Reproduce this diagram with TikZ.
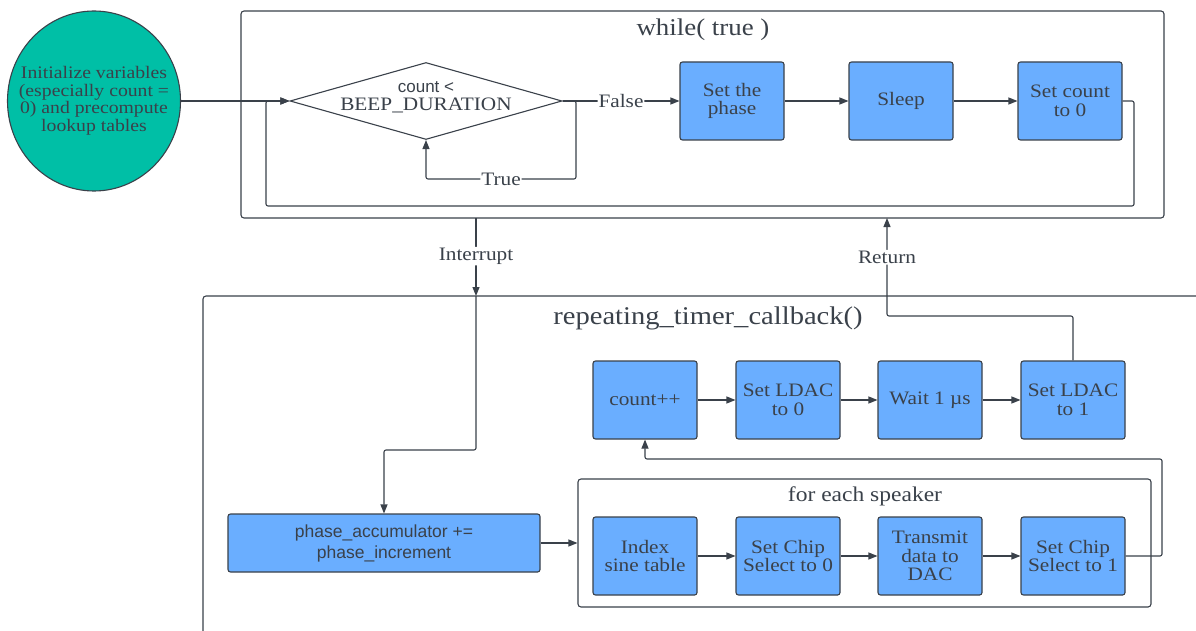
\documentclass[tikz,border=0pt]{standalone}
\usepackage{fontspec}
\setmainfont{Liberation Serif}[FakeStretch=1.12]
\newfontfamily\sansf{Liberation Sans}
\usetikzlibrary{arrows.meta,shapes.geometric}
\definecolor{ink}{HTML}{3A414A}
\definecolor{tealc}{HTML}{00BFA6}
\definecolor{blu}{HTML}{6AAEFF}
\tikzset{
 box/.style={draw=ink,fill=blu,rounded corners=2.5pt,minimum width=104pt,minimum height=78pt,align=center,text=ink,font=\fontsize{19}{18.5}\selectfont,line width=1.1pt,inner sep=2pt},
 frame/.style={draw=ink,rounded corners=3pt,line width=1.1pt},
 conn/.style={draw=ink,line width=1.1pt,rounded corners=2pt,-{Triangle[length=9pt,width=7pt]}},
 lbl/.style={text=ink,font=\fontsize{19}{19}\selectfont,fill=white,inner sep=1pt},
 title/.style={text=ink,font=\fontsize{24}{24}\selectfont,inner sep=0pt}
}
\begin{document}
\begin{tikzpicture}[x=1pt,y=-1pt]
\useasboundingbox[fill=white] (0,0) rectangle (1196,631);
% frames
\node[frame,minimum width=923pt,minimum height=207pt,inner sep=0pt] (wbox) at (702.5,114.5) {};
\node[title] (wtitle) at (703,30) {while( true )};
\draw[frame] (1196,296) -- (203,296) -- (203,640);
\node[title,font=\fontsize{25.5}{25.5}\selectfont] (ctitle) at (708,318) {repeating\_timer\_callback()};
\node[frame,minimum width=573pt,minimum height=128pt,inner sep=0pt] (feach) at (864.5,543) {};
\node[title,font=\fontsize{21}{21}\selectfont] (ftitle) at (865,496) {for each speaker};
% start
\node[ellipse,draw=ink,fill=tealc,line width=1.1pt,minimum width=173pt,minimum height=180pt,inner sep=0pt] (init) at (94,101) {};
\node[align=center,text=ink,inner sep=0pt,font=\fontsize{17.6}{17.5}\selectfont] (inittext) at (init.center) {Initialize variables\\(especially count =\\0) and precompute\\lookup tables};
% decision
\node[diamond,draw=ink,fill=white,line width=1.1pt,minimum width=272pt,minimum height=77pt,inner sep=0pt] (dec) at (426,101) {};
\node[align=center,text=ink,inner sep=0pt,font=\fontsize{19}{18.5}\selectfont] (dectext) at (426,97) {{\sansf\fontsize{17}{18.5}\selectfont count <}\\BEEP\_DURATION};
% while boxes
\node[box] (phase) at (732,101) {Set the\\phase};
\node[box] (sleep) at (901,101) {Sleep};
\node[box] (cnt0) at (1070,101) {Set count\\to 0};
% callback boxes
\node[box] (cntpp) at (645,400) {count++};
\node[box] (ldac0) at (788,400) {Set LDAC\\to 0};
\node[box] (wait) at (930,400) {Wait 1 µs};
\node[box] (ldac1) at (1073,400) {Set LDAC\\to 1};
\node[box] (sine) at (645,556) {Index\\sine table};
\node[box] (cs0) at (788,556) {Set Chip\\Select to 0};
\node[box] (tx) at (930,556) {Transmit\\data to\\DAC};
\node[box] (cs1) at (1073,556) {Set Chip\\Select to 1};
\node[box,minimum width=312pt,minimum height=58pt,font=\sansf\fontsize{17.5}{21}\selectfont] (acc) at (384,543) {phase\_accumulator +=\\phase\_increment};
% coordinates
\coordinate (t1) at (576,179);
\coordinate (lp1) at (1134,206);
\coordinate (lp2) at (266,206);
\coordinate (irq) at (476,218);
\coordinate (irqin) at (476,296);
\coordinate (ib) at (476,450);
\coordinate (rb) at (887,316);
\coordinate (ret) at (887,218);
\coordinate (fb1) at (1162,459);
% connectors
\draw[conn] (init.east) -- (dec.west);
\draw[conn] (dec.east) -- node[lbl]{False} (phase.west);
\draw[conn] (dec.east) -| (t1) -| node[lbl,pos=0.25]{True} (dec.south);
\draw[conn] (phase) -- (sleep);
\draw[conn] (sleep) -- (cnt0);
\draw[conn] (cnt0.east) -| (lp1) -- (lp2) |- (dec.west);
\draw[conn] (irq) -- node[lbl,pos=0.49]{Interrupt} (irqin);
\draw[conn] (irqin) -- (ib) -| (acc.north);
\draw[conn] (ldac1.north) |- (rb) -- node[lbl,pos=0.6]{Return} (ret);
\draw[conn] (cntpp) -- (ldac0);
\draw[conn] (ldac0) -- (wait);
\draw[conn] (wait) -- (ldac1);
\draw[conn] (acc) -- (feach);
\draw[conn] (sine) -- (cs0);
\draw[conn] (cs0) -- (tx);
\draw[conn] (tx) -- (cs1);
\draw[conn] (cs1.east) -| (fb1) -| (cntpp.south);
\end{tikzpicture}
\end{document}
